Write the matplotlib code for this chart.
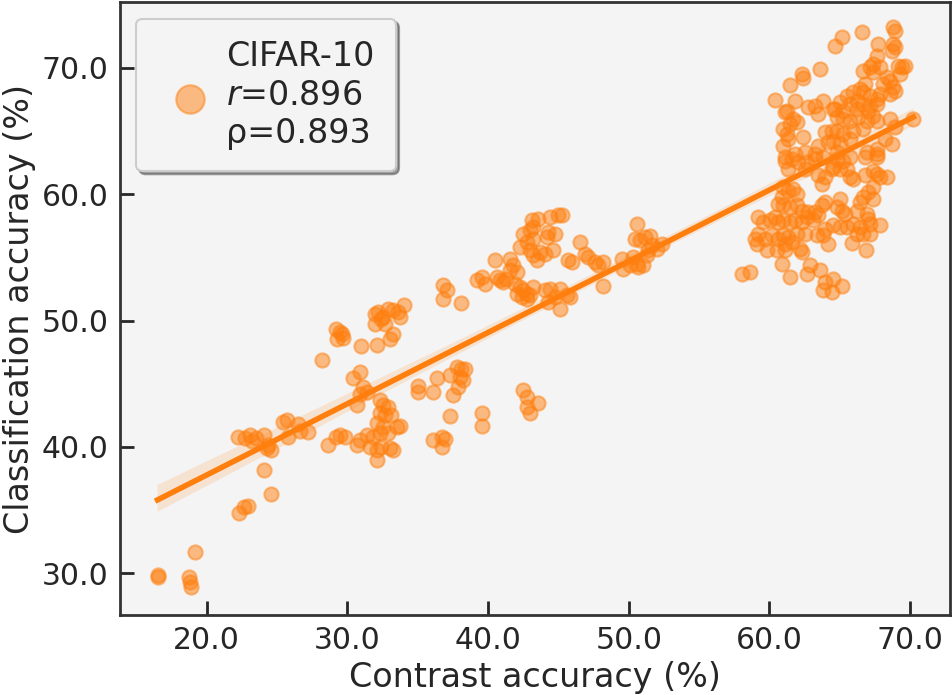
import matplotlib
matplotlib.use("Agg")
import matplotlib.pyplot as plt
import numpy as np
import seaborn as sns

# low cluster (contrast < 28)
low_x = [16.5, 16.55, 18.75, 18.8, 18.85, 19.17, 22.28, 22.63, 22.94, 24.05, 24.6,
         22.2, 22.7, 23.06, 23.2, 23.5, 24.1, 24.36, 24.6, 24.25,
         25.43, 25.67, 25.8, 26.5, 26.6, 27.2]
low_y = [29.75, 29.85, 29.7, 29.35, 28.95, 31.7, 34.8, 35.28, 35.35, 38.2, 36.3,
         40.76, 40.7, 40.95, 40.5, 40.7, 40.95, 40.15, 39.75, 39.9,
         42.0, 42.1, 40.8, 41.8, 41.3, 41.2]

# middle cluster (contrast 28-44)
mid_x = [28.16, 29.22, 29.46, 29.65, 29.27, 29.7, 30.93, 32.11,
         31.95, 32.18, 32.42, 31.95, 32.66, 32.9, 33.25, 33.6, 34.0, 33.72, 32.54,
         33.0, 33.25, 36.8, 37.05, 36.8, 38.1, 30.88, 30.4,
         31.12, 30.88, 31.36, 30.65,
         32.3, 32.54, 32.9, 32.3, 32.66, 33.13, 32.07, 32.54, 33.49, 33.73, 32.9,
         32.3, 31.83, 31.36, 30.88, 30.65, 31.59, 32.07, 32.42, 33.0, 33.25, 32.07,
         29.46, 29.82, 29.22, 28.63,
         35.03, 35.03, 36.1, 36.34, 37.28, 37.76, 38.11, 38.35, 38.0, 38.23, 37.87, 37.52,
         37.28, 39.54, 39.54, 36.1, 36.69, 36.93, 36.69,
         42.5, 42.74, 42.74, 42.97, 43.56]
mid_y = [46.92, 49.37, 49.1, 48.97, 48.58, 48.66, 48.0, 48.1,
         50.55, 50.68, 50.15, 49.76, 49.76, 50.95, 50.81, 50.68, 51.2, 50.28, 50.28,
         48.58, 48.97, 52.79, 52.4, 51.74, 51.4, 45.94, 45.42,
         44.76, 44.23, 44.36, 43.31,
         43.7, 43.31, 43.18, 42.65, 42.52, 42.52, 41.86, 41.6, 41.6, 41.65, 41.07,
         41.07, 40.8, 40.94, 40.55, 40.15, 40.02, 39.76, 40.02, 39.89, 39.76, 38.97,
         40.94, 40.8, 40.8, 40.15,
         44.81, 44.36, 44.36, 45.47, 45.68, 46.34, 46.2, 46.2, 45.55, 45.28, 44.76, 44.1,
         42.44, 42.7, 41.65, 40.55, 40.8, 40.6, 40.02,
         44.5, 43.97, 43.18, 42.65, 43.44]

# upper middle cluster (contrast 39-53)
upper_x = [39.18, 39.54, 39.77, 40.48, 40.6, 40.84, 41.07, 41.31,
           41.55, 41.78, 41.55, 42.03,
           41.91, 42.26, 42.5, 42.03, 42.74, 42.97, 43.21, 42.38, 42.74,
           42.26, 42.74, 42.97, 43.21, 43.45, 43.68, 44.04, 44.63,
           42.5, 42.97, 43.21, 43.09, 43.56, 44.4, 44.99, 45.23, 44.27, 44.75, 44.16, 43.21,
           44.04, 44.4, 45.11, 44.27, 45.11, 44.75, 45.58, 45.82,
           45.7, 45.94, 46.53, 46.88, 47.12, 47.6, 47.83, 48.19, 48.19,
           49.49, 49.61, 50.09, 50.32, 50.56, 50.68, 51.03, 51.27, 50.56,
           50.44, 50.8, 51.15, 51.5, 51.63, 52.34, 51.98, 51.39]
upper_y = [53.18, 53.44, 52.92, 54.76, 53.44, 53.18, 53.05, 53.31,
           54.9, 54.37, 53.97, 53.84,
           52.92, 52.65, 52.39, 52.13, 52.13, 52.0, 52.65, 51.86, 51.74,
           55.81, 56.2, 55.55, 55.16, 54.76, 55.42, 55.29, 55.55,
           56.87, 57.13, 57.39, 57.92, 58.06, 58.18, 58.32, 58.32, 57.0, 56.87, 56.6, 56.48,
           52.39, 52.53, 52.53, 51.47, 50.95, 51.86, 52.0, 51.86,
           54.76, 54.63, 56.2, 55.29, 55.0, 54.63, 54.37, 54.63, 52.71,
           54.9, 54.1, 54.37, 55.0, 54.5, 54.24, 54.37, 55.16, 57.66,
           56.48, 56.34, 56.6, 56.66, 55.95, 56.08, 55.69, 55.55]

# high cluster (contrast 58-71)
high_x = [64.67, 63.6, 62.3, 62.41, 61.47, 60.4, 61.82, 61.23, 61.1, 62.77, 63.24, 63.48,
          63.83, 64.55, 61.7, 61.94, 61.47, 60.99, 61.23, 61.34, 62.41, 60.99, 61.1, 61.82,
          62.53, 63.24, 63.48, 63.95, 64.43, 64.19,
          65.14, 66.56, 68.81, 68.93, 67.75, 67.63, 67.39, 68.81, 68.93, 68.7, 66.68, 67.16,
          67.39, 67.87, 69.17, 69.41, 69.64, 69.29, 68.34, 68.1, 68.58, 68.81, 68.93, 68.58,
          66.8, 66.44, 65.97, 65.5, 66.68, 67.16, 67.63, 67.87, 65.73, 66.21, 65.02, 64.67,
          65.26, 66.21, 66.68, 67.16, 67.63, 67.04, 67.39, 64.79, 65.26, 65.73, 66.32, 66.92,
          67.63, 68.58, 68.93, 70.24, 64.79, 65.26, 65.97, 66.68, 65.73, 65.02, 64.55, 66.92,
          67.63, 68.22, 68.7, 67.63, 64.79,
          61.1, 61.59, 62.06, 62.65, 63.24, 63.83, 61.34, 62.53, 63.48, 63.95, 64.43, 63.72,
          60.99, 61.34, 61.7, 61.94, 60.87, 60.63, 60.99, 61.47, 61.94, 62.3, 62.77, 63.24,
          63.72, 63.95, 62.65, 63.48, 63.12, 59.21, 59.57, 60.04, 60.4, 60.63, 60.99, 61.47,
          61.82, 62.3, 59.21, 58.98, 59.09, 59.69, 60.16, 60.63, 60.99, 61.34, 61.94, 62.53,
          61.59, 61.1, 59.81, 60.52, 61.1, 62.18, 62.3, 60.87, 58.03, 58.62, 61.47, 62.89,
          62.65, 63.6, 63.95, 63.83, 64.19, 63.36, 63.95, 63.83, 64.43,
          64.79, 65.26, 65.73, 64.55, 65.02, 65.5, 66.8, 67.63, 65.73, 65.97, 66.8, 67.39,
          67.63, 67.87, 68.34, 67.39, 67.04, 66.68, 66.44, 67.39, 65.02, 65.14, 65.38, 64.79,
          66.21, 66.92, 67.04, 67.16, 67.87, 64.55, 65.02, 65.5, 65.97, 66.44, 66.21, 66.68,
          67.16, 65.85, 66.87, 64.55, 65.14]
high_y = [71.75, 69.9, 69.51, 69.19, 68.66, 67.48, 67.4, 66.61, 66.48, 66.93, 67.0, 66.35,
          67.4, 66.75, 65.96, 65.69, 65.56, 65.17, 64.77, 64.38, 64.51, 63.85, 62.92, 63.19,
          63.32, 63.19, 63.85, 64.9, 65.03, 64.11,
          72.4, 72.8, 73.19, 72.93, 71.88, 70.95, 70.3, 71.88, 71.61, 71.35, 69.77, 70.03,
          69.64, 70.03, 70.16, 70.03, 70.16, 69.51, 69.24, 68.72, 68.98, 68.45, 68.19, 67.93,
          68.72, 68.33, 68.06, 67.8, 68.06, 67.8, 67.54, 67.93, 67.14, 67.4, 67.27, 66.75,
          66.61, 66.75, 67.14, 67.0, 67.14, 66.61, 66.22, 66.08, 65.96, 65.82, 66.08, 65.82,
          65.82, 65.96, 65.29, 65.96, 65.03, 64.77, 65.03, 65.17, 64.38, 63.98, 64.24, 63.32,
          63.59, 64.38, 63.98, 63.19, 63.32,
          62.66, 62.8, 62.53, 62.53, 62.8, 62.92, 62.0, 62.0, 61.48, 61.34, 62.0, 60.82,
          60.55, 60.29, 60.42, 60.03, 59.76, 59.24, 59.11, 58.97, 59.11, 58.71, 58.58, 58.58,
          59.11, 59.37, 58.18, 58.32, 57.92, 58.18, 57.79, 57.92, 58.18, 57.79, 57.92, 57.79,
          57.92, 57.79, 56.87, 56.48, 56.08, 56.48, 56.74, 56.48, 56.74, 56.6, 56.87, 56.87,
          56.21, 56.08, 55.55, 55.55, 55.55, 55.69, 55.42, 54.5, 53.71, 53.84, 53.44, 54.37,
          53.71, 53.97, 57.27, 56.74, 56.08, 56.74, 53.05, 52.39, 52.26,
          62.8, 62.66, 62.92, 62.13, 62.0, 62.0, 62.92, 62.92, 61.34, 61.21, 61.48, 61.87,
          61.61, 61.34, 61.34, 60.55, 60.16, 59.76, 59.37, 59.63, 59.63, 58.71, 58.45, 58.97,
          58.71, 58.45, 58.06, 57.66, 57.53, 57.53, 57.39, 57.39, 57.66, 57.39, 56.87, 56.87,
          56.87, 56.16, 55.55, 53.32, 52.73]

legend_label = "CIFAR-10\n$r$=0.896\nρ=0.893"
x_ticks = [20, 30, 40, 50, 60, 70]
y_ticks = [30, 40, 50, 60, 70]

contrast = np.array(low_x + mid_x + upper_x + high_x)
classif = np.array(low_y + mid_y + upper_y + high_y)

orange = "#ff7f0e"
text_c = "#262626"

plt.rcParams["font.family"] = ["DejaVu Sans"]
plt.rcParams["text.color"] = text_c
plt.rcParams["axes.labelcolor"] = text_c
plt.rcParams["xtick.color"] = text_c
plt.rcParams["ytick.color"] = text_c

fig = plt.figure(figsize=(9.52, 6.95), dpi=100)
ax = fig.add_axes([0.1256, 0.115, 0.8724, 0.882])
ax.set_facecolor("#f4f4f4")

sc = ax.scatter(contrast, classif, s=105, color=orange, alpha=0.5,
                edgecolors=orange, linewidths=1.5, zorder=2)
sns.regplot(x=contrast, y=classif, ax=ax, scatter=False, color=orange,
            line_kws={"linewidth": 4}, seed=0)

ax.set_xlim(13.8, 72.85)
ax.set_ylim(26.7, 75.2)
ax.set_xticks(x_ticks)
ax.set_yticks(y_ticks)
ax.set_xticklabels([f"{v:.1f}" for v in x_ticks])
ax.set_yticklabels([f"{v:.1f}" for v in y_ticks])
ax.tick_params(direction="in", length=10, width=2, labelsize=21.5, pad=8)
for sp in ax.spines.values():
    sp.set_linewidth(2)
    sp.set_color("#333333")

ax.set_xlabel("Contrast accuracy (%)", fontsize=24, labelpad=4)
ax.set_ylabel("Classification accuracy (%)", fontsize=24, labelpad=4)

leg = ax.legend([sc], [legend_label], loc="upper left", fontsize=24,
                markerscale=2, shadow=True, fancybox=True, frameon=True,
                handlelength=1.9, handletextpad=0.15, borderpad=0.65)
leg.get_frame().set_facecolor("#f4f4f4")
leg.get_frame().set_edgecolor("#cccccc")
leg.get_frame().set_linewidth(1.5)

fig.savefig("out.png", dpi=100)
